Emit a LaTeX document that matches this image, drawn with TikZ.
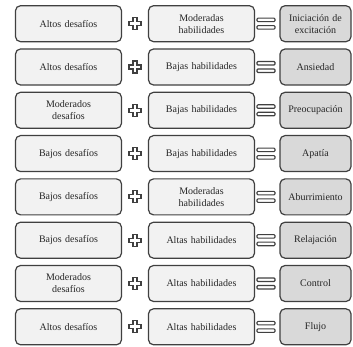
\documentclass[tikz,border=0pt]{standalone}
\usepackage{fontspec}
\setmainfont{Liberation Serif}
\definecolor{bordc}{HTML}{404040}
\definecolor{lightf}{HTML}{F2F2F2}
\definecolor{darkf}{HTML}{D9D9D9}
\begin{document}
\begin{tikzpicture}[x=1pt,y=-1pt,
  boxbase/.style={draw=bordc,line width=1.2pt,rounded corners=5pt,minimum height=36pt,
    align=center,font=\fontsize{10}{12}\selectfont,inner sep=1pt,text=black!85},
  leftbox/.style={boxbase,fill=lightf,minimum width=106pt,text width=100pt},
  rightbox/.style={boxbase,fill=darkf,minimum width=71pt,text width=68pt},
  symb/.style={draw=bordc,line width=1.1pt,fill=white}]
\useasboundingbox (0,0) rectangle (353,347);
\foreach \a/\b/\c [count=\i from 0] in {
  Altos desafíos/Moderadas\\habilidades/Iniciación de\\excitación,
  Altos desafíos/Bajas habilidades/Ansiedad,
  Moderados\\desafíos/Bajas habilidades/Preocupación,
  Bajos desafíos/Bajas habilidades/Apatía,
  Bajos desafíos/Moderadas\\habilidades/Aburrimiento,
  Bajos desafíos/Altas habilidades/Relajación,
  Moderados\\desafíos/Altas habilidades/Control,
  Altos desafíos/Altas habilidades/Flujo}{
  \pgfmathsetmacro\yc{23.7+43.3*\i}
  \node[leftbox] (l\i) at (68.5,\yc) {\a};
  \node[leftbox] (m\i) at (201.5,\yc) {\b};
  \node[rightbox] (r\i) at (315.5,\yc) {\c};
  \coordinate (p\i) at (135,\yc);
  \coordinate (e\i) at (266,\yc);
  \draw[symb] ([shift={(-2,-6)}]p\i) -- ++(4,0) -- ++(0,4) -- ++(4,0) -- ++(0,4)
     -- ++(-4,0) -- ++(0,4) -- ++(-4,0) -- ++(0,-4) -- ++(-4,0) -- ++(0,-4) -- ++(4,0) -- cycle;
  \draw[symb,rounded corners=1pt] ([shift={(-9,-5.5)}]e\i) rectangle ([shift={(9,-2)}]e\i);
  \draw[symb,rounded corners=1pt] ([shift={(-9,2)}]e\i) rectangle ([shift={(9,5.5)}]e\i);
}
\end{tikzpicture}
\end{document}
